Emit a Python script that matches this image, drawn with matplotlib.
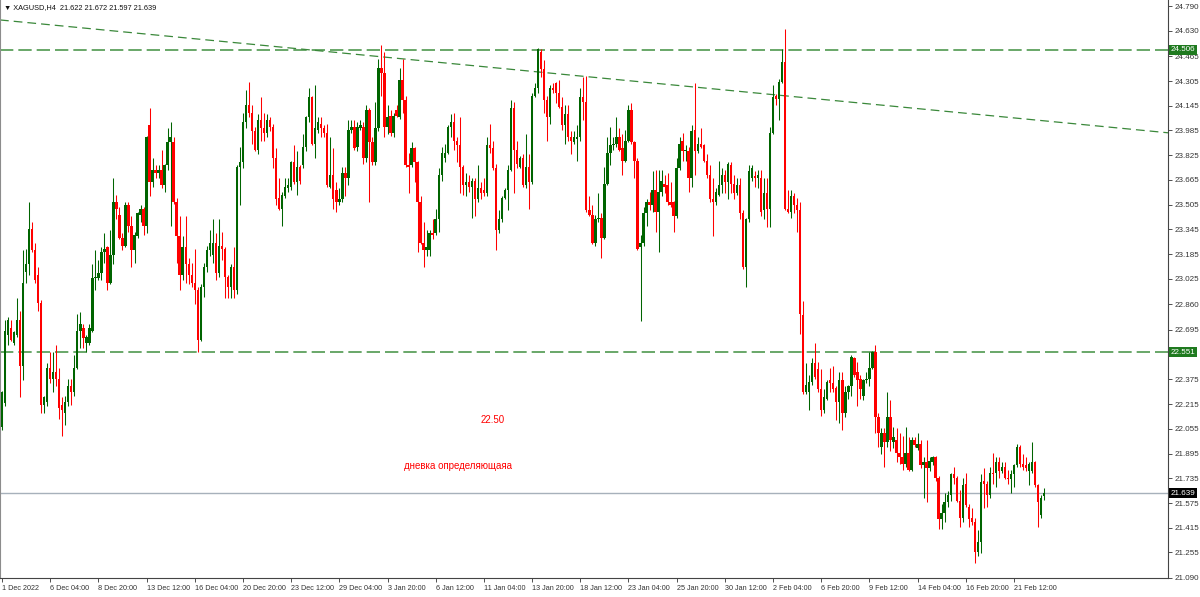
import numpy as np
import matplotlib
matplotlib.use("Agg")
import matplotlib.pyplot as plt
import matplotlib.transforms as mtransforms

plt.rcParams['font.family'] = ['Liberation Sans', 'DejaVu Sans']

# XAGUSD H4 candles
opens = [
    22.07, 22.22, 22.66, 22.71, 22.61, 22.66, 22.76, 22.46, 23.07, 23.12,
    23.35, 23.21, 23.05, 22.87, 22.21, 22.23, 22.45, 22.38, 22.42, 22.38,
    22.21, 22.16, 22.23, 22.33, 22.29, 22.45, 22.69, 22.71, 22.61, 22.61,
    22.69, 23.03, 23.03, 23.06, 23.20, 23.23, 23.00, 23.18, 23.52, 23.44,
    23.29, 23.24, 23.50, 23.37, 23.21, 23.30, 23.44, 23.48, 23.37, 24.02,
    23.65, 23.73, 23.71, 23.73, 23.63, 23.76, 23.91, 23.91, 23.52, 23.30,
    23.05, 23.23, 23.12, 23.05, 23.00, 22.95, 22.63, 22.97, 23.10, 23.21,
    23.18, 23.26, 23.06, 23.24, 23.22, 23.04, 22.97, 23.10, 22.95, 23.75,
    23.78, 24.04, 24.15, 24.10, 23.98, 23.86, 24.05, 24.00, 23.97, 24.05,
    24.01, 23.81, 23.55, 23.48, 23.56, 23.61, 23.62, 23.78, 23.65, 23.75,
    23.76, 23.88, 24.07, 24.20, 23.90, 23.99, 24.03, 24.00, 23.97, 23.62,
    23.70, 23.60, 23.52, 23.54, 23.71, 23.68, 23.99, 24.01, 23.88, 24.00,
    24.01, 23.81, 24.12, 23.91, 23.78, 24.00, 24.39, 24.36, 24.01, 24.08,
    23.97, 24.12, 24.07, 24.31, 24.18, 23.76, 23.76, 23.87, 23.78, 23.52,
    23.26, 23.21, 23.21, 23.32, 23.32, 23.41, 23.70, 23.81, 23.84, 24.01,
    24.04, 23.92, 23.89, 23.75, 23.63, 23.65, 23.62, 23.66, 23.54, 23.61,
    23.60, 23.58, 23.89, 23.87, 23.74, 23.34, 23.41, 23.55, 23.60, 23.73,
    24.13, 23.86, 23.75, 23.81, 23.63, 23.75, 23.65, 24.21, 24.26, 24.49,
    24.38, 24.18, 24.07, 24.26, 24.29, 24.23, 24.14, 24.02, 24.09, 23.94,
    23.91, 23.93, 23.94, 24.20, 24.17, 23.47, 23.44, 23.26, 23.41, 23.42,
    23.29, 23.64, 23.84, 23.89, 23.90, 23.94, 23.87, 23.79, 23.92, 24.12,
    23.91, 23.79, 23.23, 23.26, 23.45, 23.52, 23.50, 23.60, 23.46, 23.59,
    23.64, 23.63, 23.52, 23.52, 23.43, 23.74, 23.92, 23.85, 23.85, 23.68,
    23.99, 23.85, 23.90, 23.89, 23.79, 23.70, 23.54, 23.52, 23.57, 23.63,
    23.70, 23.65, 23.76, 23.64, 23.58, 23.63, 23.45, 23.10, 23.41, 23.68,
    23.69, 23.68, 23.68, 23.47, 23.58, 23.48, 23.97, 24.21, 24.19, 24.30,
    24.43, 23.48, 23.46, 23.56, 23.50, 23.47, 22.79, 22.29, 22.29, 22.36,
    22.48, 22.44, 22.31, 22.18, 22.25, 22.37, 22.35, 22.32, 22.23, 22.37,
    22.16, 22.29, 22.33, 22.51, 22.42, 22.38, 22.27, 22.37, 22.38, 22.45,
    22.55, 22.13, 21.94, 22.03, 21.97, 22.13, 21.97, 21.98, 21.90, 21.87,
    21.83, 21.90, 21.79, 21.98, 21.93, 21.96, 21.82, 21.84, 21.80, 21.84,
    21.87, 21.74, 21.47, 21.51, 21.58, 21.63, 21.76, 21.74, 21.59, 21.48,
    21.70, 21.55, 21.48, 21.45, 21.26, 21.32, 21.72, 21.70, 21.63, 21.77,
    21.77, 21.84, 21.78, 21.81, 21.74, 21.73, 21.76, 21.82, 21.94, 21.83,
    21.82, 21.78, 21.78, 21.84, 21.69, 21.50, 21.622,
]
highs = [
    22.30, 22.76, 22.78, 22.76, 22.69, 22.90, 22.82, 23.21, 23.22, 23.52,
    23.39, 23.26, 23.10, 22.89, 22.27, 22.48, 22.55, 22.55, 22.60, 22.45,
    22.26, 22.27, 22.38, 22.38, 22.53, 22.80, 22.81, 22.73, 22.66, 22.73,
    23.12, 23.21, 23.15, 23.23, 23.32, 23.24, 23.34, 23.68, 23.57, 23.49,
    23.32, 23.52, 23.52, 23.43, 23.33, 23.46, 23.50, 23.49, 23.95, 24.13,
    23.81, 23.76, 23.76, 23.86, 23.77, 24.00, 24.04, 23.94, 23.55, 23.43,
    23.30, 23.43, 23.16, 23.13, 23.22, 22.97, 22.99, 23.13, 23.24, 23.34,
    23.41, 23.32, 23.41, 23.33, 23.23, 23.05, 23.12, 23.23, 23.76, 23.88,
    24.10, 24.25, 24.30, 24.15, 24.01, 24.09, 24.20, 24.10, 24.09, 24.07,
    24.03, 23.87, 23.68, 23.59, 23.68, 23.68, 23.79, 23.89, 23.85, 23.76,
    23.96, 24.08, 24.26, 24.21, 24.28, 24.07, 24.07, 24.02, 24.03, 23.94,
    23.87, 23.65, 23.61, 23.75, 23.75, 24.05, 24.05, 24.05, 24.04, 24.05,
    24.04, 24.15, 24.13, 23.94, 24.17, 24.45, 24.54, 24.49, 24.15, 24.12,
    24.10, 24.15, 24.39, 24.45, 24.21, 23.84, 23.91, 23.88, 23.79, 23.56,
    23.39, 23.34, 23.34, 23.41, 23.48, 23.74, 23.88, 23.90, 24.02, 24.09,
    24.10, 23.94, 24.07, 23.76, 23.71, 23.70, 23.68, 23.68, 23.76, 23.65,
    23.68, 23.94, 24.03, 23.92, 23.77, 23.47, 23.56, 23.61, 23.76, 24.18,
    24.17, 23.92, 23.82, 23.83, 23.96, 23.83, 24.23, 24.29, 24.52, 24.51,
    24.44, 24.21, 24.28, 24.29, 24.30, 24.31, 24.20, 24.15, 24.15, 23.98,
    23.98, 24.02, 24.26, 24.33, 24.34, 23.56, 23.50, 23.44, 23.58, 23.45,
    23.75, 23.94, 24.01, 23.94, 24.07, 24.00, 23.96, 23.99, 24.15, 24.16,
    23.92, 23.81, 23.31, 23.49, 23.54, 23.59, 23.72, 23.73, 23.73, 23.73,
    23.70, 23.71, 23.65, 23.53, 23.81, 23.94, 23.97, 23.89, 23.88, 24.02,
    24.29, 23.94, 24.00, 23.90, 23.83, 23.76, 23.68, 23.61, 23.79, 23.74,
    23.73, 23.78, 23.78, 23.70, 23.68, 23.68, 23.47, 23.42, 23.76, 23.76,
    23.72, 23.73, 23.73, 23.68, 23.68, 24.01, 24.28, 24.22, 24.32, 24.51,
    24.64, 23.60, 23.60, 23.58, 23.55, 23.52, 22.88, 22.48, 22.40, 22.51,
    22.61, 22.49, 22.44, 22.31, 22.37, 22.45, 22.46, 22.33, 22.42, 22.42,
    22.33, 22.34, 22.53, 22.52, 22.49, 22.40, 22.38, 22.42, 22.55, 22.56,
    22.60, 22.16, 22.06, 22.06, 22.29, 22.24, 22.07, 22.06, 22.03, 22.01,
    22.07, 22.00, 22.00, 22.00, 22.03, 21.98, 21.87, 21.98, 21.87, 21.88,
    21.88, 21.75, 21.57, 21.64, 21.65, 21.77, 21.81, 21.75, 21.66, 21.74,
    21.77, 21.57, 21.54, 21.48, 21.40, 21.76, 21.80, 21.72, 21.81, 21.90,
    21.87, 21.87, 21.84, 21.84, 21.79, 21.79, 21.83, 21.96, 21.95, 21.89,
    21.87, 21.84, 21.97, 21.85, 21.70, 21.63, 21.672,
]
lows = [
    22.05, 22.20, 22.60, 22.62, 22.60, 22.65, 22.26, 22.37, 23.00, 23.05,
    23.20, 23.00, 22.82, 22.16, 22.16, 22.20, 22.35, 22.29, 22.33, 22.12,
    22.01, 22.08, 22.20, 22.21, 22.27, 22.44, 22.58, 22.58, 22.55, 22.60,
    22.68, 22.95, 23.02, 23.02, 23.13, 22.95, 22.99, 23.12, 23.41, 23.28,
    23.21, 23.23, 23.33, 23.10, 23.13, 23.29, 23.39, 23.31, 23.32, 23.56,
    23.62, 23.68, 23.68, 23.61, 23.59, 23.73, 23.37, 23.51, 23.13, 22.95,
    23.02, 23.00, 22.99, 22.97, 22.86, 22.55, 22.62, 22.91, 23.07, 23.17,
    23.13, 23.02, 23.04, 23.15, 22.90, 22.90, 22.90, 22.90, 22.93, 23.50,
    23.74, 24.00, 24.07, 23.90, 23.85, 23.83, 23.92, 23.92, 23.94, 23.98,
    23.74, 23.50, 23.47, 23.37, 23.55, 23.59, 23.60, 23.64, 23.57, 23.64,
    23.74, 23.85, 24.04, 23.89, 23.81, 23.97, 23.94, 23.94, 23.62, 23.61,
    23.48, 23.46, 23.50, 23.52, 23.56, 23.63, 23.97, 23.86, 23.85, 23.99,
    23.77, 23.78, 23.52, 23.76, 23.76, 23.98, 24.21, 23.94, 23.96, 23.95,
    23.94, 24.07, 24.06, 24.10, 23.75, 23.58, 23.75, 23.65, 23.20, 23.25,
    23.10, 23.17, 23.17, 23.28, 23.31, 23.33, 23.66, 23.78, 23.83, 23.94,
    23.86, 23.78, 23.58, 23.57, 23.56, 23.59, 23.42, 23.43, 23.52, 23.54,
    23.56, 23.56, 23.84, 23.73, 23.21, 23.32, 23.39, 23.54, 23.47, 23.72,
    23.58, 23.74, 23.74, 23.62, 23.61, 23.48, 23.64, 24.20, 24.23, 24.33,
    24.10, 23.92, 24.03, 24.23, 24.16, 24.13, 23.99, 23.90, 23.92, 23.83,
    23.90, 23.79, 23.92, 24.05, 23.46, 23.43, 23.25, 23.24, 23.39, 23.16,
    23.28, 23.63, 23.76, 23.86, 23.88, 23.85, 23.70, 23.78, 23.91, 23.90,
    23.68, 23.21, 22.75, 23.24, 23.37, 23.47, 23.46, 23.33, 23.20, 23.56,
    23.58, 23.50, 23.49, 23.33, 23.42, 23.73, 23.79, 23.79, 23.59, 23.62,
    23.70, 23.84, 23.87, 23.78, 23.68, 23.52, 23.30, 23.50, 23.56, 23.58,
    23.58, 23.54, 23.58, 23.54, 23.57, 23.41, 23.09, 22.97, 23.39, 23.66,
    23.62, 23.61, 23.43, 23.41, 23.36, 23.36, 23.96, 24.15, 24.05, 24.29,
    23.47, 23.45, 23.42, 23.45, 23.33, 22.67, 22.28, 22.28, 22.18, 22.34,
    22.38, 22.29, 22.14, 22.16, 22.24, 22.29, 22.29, 22.11, 22.09, 22.05,
    22.13, 22.25, 22.27, 22.39, 22.20, 22.25, 22.24, 22.35, 22.33, 22.44,
    22.03, 21.94, 21.89, 21.81, 21.94, 21.91, 21.93, 21.84, 21.83, 21.79,
    21.81, 21.78, 21.78, 21.94, 21.92, 21.80, 21.61, 21.58, 21.78, 21.82,
    21.72, 21.41, 21.41, 21.45, 21.55, 21.59, 21.70, 21.58, 21.42, 21.45,
    21.55, 21.42, 21.43, 21.19, 21.23, 21.25, 21.54, 21.55, 21.61, 21.70,
    21.68, 21.74, 21.77, 21.73, 21.70, 21.64, 21.68, 21.81, 21.81, 21.79,
    21.78, 21.69, 21.77, 21.68, 21.42, 21.48, 21.597,
]
closes = [
    22.29, 22.69, 22.76, 22.63, 22.68, 22.76, 22.46, 23.00, 23.12, 23.35,
    23.21, 23.02, 22.87, 22.21, 22.26, 22.45, 22.38, 22.42, 22.38, 22.19,
    22.18, 22.23, 22.33, 22.29, 22.45, 22.69, 22.73, 22.64, 22.65, 22.71,
    23.03, 23.04, 23.06, 23.20, 23.22, 23.00, 23.18, 23.52, 23.48, 23.29,
    23.24, 23.50, 23.37, 23.21, 23.31, 23.45, 23.48, 23.37, 23.94, 23.65,
    23.73, 23.71, 23.73, 23.63, 23.76, 23.91, 23.94, 23.52, 23.30, 23.05,
    23.23, 23.12, 23.05, 23.00, 22.95, 22.63, 22.97, 23.10, 23.21, 23.26,
    23.26, 23.06, 23.24, 23.22, 23.04, 22.97, 23.10, 22.95, 23.75, 23.78,
    24.04, 24.15, 24.10, 23.98, 23.86, 24.05, 24.00, 23.97, 24.05, 24.01,
    23.81, 23.54, 23.48, 23.57, 23.62, 23.63, 23.78, 23.65, 23.75, 23.66,
    23.88, 24.07, 24.20, 23.90, 24.00, 24.04, 24.00, 23.97, 23.63, 23.70,
    23.54, 23.52, 23.54, 23.71, 23.68, 23.99, 24.01, 23.87, 24.01, 24.02,
    23.81, 24.12, 23.91, 23.78, 24.00, 24.39, 24.36, 24.01, 24.07, 23.97,
    24.08, 24.08, 24.31, 24.18, 23.76, 23.75, 23.87, 23.78, 23.52, 23.26,
    23.21, 23.23, 23.32, 23.31, 23.41, 23.70, 23.84, 23.84, 24.01, 24.04,
    23.92, 23.89, 23.75, 23.63, 23.65, 23.62, 23.66, 23.54, 23.61, 23.58,
    23.58, 23.89, 23.87, 23.74, 23.34, 23.41, 23.55, 23.60, 23.73, 24.13,
    23.86, 23.77, 23.81, 23.63, 23.75, 23.65, 24.21, 24.26, 24.51, 24.38,
    24.18, 24.07, 24.26, 24.25, 24.23, 24.14, 24.02, 24.09, 23.94, 23.92,
    23.94, 23.94, 24.20, 24.17, 23.47, 23.44, 23.26, 23.41, 23.42, 23.29,
    23.64, 23.84, 23.89, 23.90, 23.94, 23.86, 23.79, 23.92, 24.12, 23.91,
    23.79, 23.22, 23.26, 23.45, 23.52, 23.50, 23.60, 23.46, 23.59, 23.66,
    23.62, 23.52, 23.50, 23.43, 23.74, 23.90, 23.85, 23.86, 23.68, 23.98,
    23.85, 23.90, 23.88, 23.79, 23.70, 23.54, 23.52, 23.59, 23.63, 23.70,
    23.65, 23.77, 23.64, 23.58, 23.63, 23.45, 23.10, 23.41, 23.72, 23.74,
    23.68, 23.70, 23.46, 23.58, 23.48, 23.97, 24.20, 24.19, 24.30, 24.43,
    23.48, 23.46, 23.56, 23.50, 23.47, 22.80, 22.29, 22.34, 22.36, 22.48,
    22.39, 22.31, 22.18, 22.26, 22.36, 22.35, 22.31, 22.23, 22.37, 22.16,
    22.29, 22.33, 22.52, 22.40, 22.37, 22.31, 22.37, 22.38, 22.45, 22.55,
    22.13, 22.03, 22.03, 21.97, 22.13, 21.98, 22.00, 21.90, 21.87, 21.83,
    21.90, 21.79, 21.98, 21.95, 21.96, 21.82, 21.84, 21.80, 21.85, 21.87,
    21.74, 21.47, 21.51, 21.58, 21.63, 21.76, 21.74, 21.59, 21.48, 21.69,
    21.56, 21.47, 21.45, 21.26, 21.32, 21.71, 21.70, 21.63, 21.77, 21.76,
    21.84, 21.78, 21.81, 21.74, 21.73, 21.76, 21.82, 21.94, 21.83, 21.81,
    21.80, 21.83, 21.84, 21.69, 21.58, 21.61, 21.639,
]

time_labels = [
    "1 Dec 2022", "6 Dec 04:00", "8 Dec 20:00", "13 Dec 12:00", "16 Dec 04:00",
    "20 Dec 20:00", "23 Dec 12:00", "29 Dec 04:00", "3 Jan 20:00", "6 Jan 12:00",
    "11 Jan 04:00", "13 Jan 20:00", "18 Jan 12:00", "23 Jan 04:00", "25 Jan 20:00",
    "30 Jan 12:00", "2 Feb 04:00", "6 Feb 20:00", "9 Feb 12:00", "14 Feb 04:00",
    "16 Feb 20:00", "21 Feb 12:00",
]
label_every = 16  # one time label every 16 bars

price_ticks = [24.790, 24.630, 24.465, 24.305, 24.145, 23.985, 23.825, 23.665,
               23.505, 23.345, 23.185, 23.025, 22.860, 22.695, 22.535, 22.375,
               22.215, 22.055, 21.895, 21.735, 21.575, 21.415, 21.255, 21.090]

level_top = 24.506
level_mid = 22.551
trend_from, trend_to = 24.70, 23.97   # trend line at left / right edge
y_min, y_max = 21.090, 24.829
n_slots = 387.8                          # visible bar slots across the window

fig = plt.figure(figsize=(12, 5.97), dpi=100)
ax = fig.add_axes([0.0, 19 / 597, 1168 / 1200, 578 / 597])

o = np.array(opens)
h = np.array(highs)
l = np.array(lows)
c = np.array(closes)
idx = np.arange(len(c))
bull, bear = '#006400', '#ff0000'
cols = np.where(c >= o, bull, bear)

ax.vlines(idx, l, h, colors=cols, linewidth=0.75, zorder=3)
ax.bar(idx, np.maximum(np.abs(c - o), 0.007), bottom=np.minimum(o, c),
       width=0.8, color=cols, linewidth=0, zorder=4)

x0 = -0.66
x1 = x0 + n_slots
ax.set_xlim(x0, x1)
ax.set_ylim(y_min, y_max)

# support / resistance and trend line
for lv in (level_top, level_mid):
    ax.axhline(lv, color='#4f984f', linewidth=1.2, linestyle=(0, (8, 3)), zorder=2)
ax.plot([x0, x1], [trend_from, trend_to], color='#3a883a', linewidth=0.9,
        linestyle=(0, (7, 4)), zorder=2)
ax.axhline(c[-1], color='#a7b1bb', linewidth=1.0, zorder=1)

# axes look
ax.spines['top'].set_visible(False)
ax.spines['left'].set_color('#8c8c8c')
ax.spines['right'].set_color('#444444')
ax.spines['bottom'].set_color('#444444')
ax.yaxis.tick_right()
ax.set_yticks(price_ticks)
# 22.535 sits under the 22.551 level box on the scale
ax.set_yticklabels(["" if abs(p - 22.535) < 1e-6 else f"{p:.3f}" for p in price_ticks])
ax.tick_params(axis='y', direction='out', length=3, width=0.6, pad=2,
               labelsize=5.8, colors='#333333')
tick_pos = np.arange(len(time_labels)) * label_every
ax.set_xticks(tick_pos)
ax.set_xticklabels(time_labels, ha='left')
ax.tick_params(axis='x', direction='out', length=3, width=0.6, pad=2,
               labelsize=5.2, colors='#333333')

# price boxes on the right scale
trans = mtransforms.blended_transform_factory(ax.transAxes, ax.transData)
for val, bg in ((level_top, '#1f7a1f'), (level_mid, '#1f7a1f'), (c[-1], '#000000')):
    ax.text(1.0025, val, f"{val:.3f}", transform=trans, ha='left', va='center',
            fontsize=5.8, color='white', zorder=10, clip_on=False,
            bbox=dict(facecolor=bg, edgecolor='none', pad=1.2))

# header and notes
fig.text(4 / 1200, 1 - 8 / 597,
         f"▼ XAGUSD,H4  {o[-1]:.3f} {h[-1]:.3f} {l[-1]:.3f} {c[-1]:.3f}",
         fontsize=5.3, va='center', ha='left', color='#111111')
ax.text(493 / 1168, 1 - 420 / 578, "22.50", transform=ax.transAxes,
        color='#ff0000', fontsize=7, ha='center', va='center')
ax.text(458 / 1168, 1 - 466 / 578, "дневка определяющаяа", transform=ax.transAxes,
        color='#ff0000', fontsize=7, ha='center', va='center')

fig.savefig("out.png", dpi=100)
